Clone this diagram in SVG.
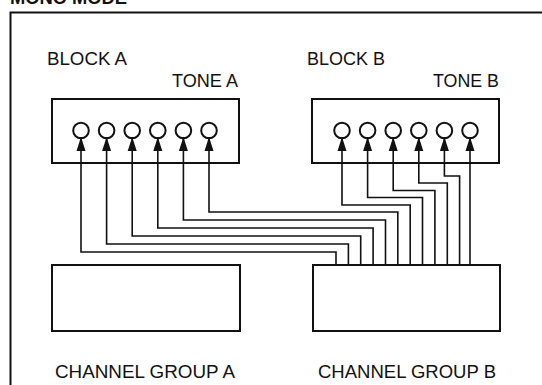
<svg xmlns="http://www.w3.org/2000/svg" width="542" height="385" viewBox="0 0 542 385">
<style>
.t{font-family:"Liberation Sans",Arial,sans-serif;font-size:17.5px;fill:#111}
.b{fill:#fff;stroke:#111;stroke-width:2}
.c{fill:#fff;stroke:#111;stroke-width:2}
.w{fill:none;stroke:#111;stroke-width:1.6;stroke-linejoin:miter}
</style>
<defs>
<marker id="ar" markerUnits="userSpaceOnUse" markerWidth="14" markerHeight="10" viewBox="0 0 14 10" refX="14" refY="5" orient="auto">
<path d="M0,0.5 L14,5 L0,9.5 z" fill="#111"/>
</marker>
</defs>
<rect width="542" height="385" fill="#fff"/>
<g id="title">
<text class="t" x="10" y="4" font-weight="bold" textLength="117" lengthAdjust="spacingAndGlyphs">MONO MODE</text>
</g>
<g id="frame">
<path d="M10.5,385 V12.5 H542" fill="none" stroke="#111" stroke-width="2"/>
</g>
<g id="blockA">
<rect class="b" x="52" y="99" width="187" height="64"/>
<text class="t" x="47" y="65" textLength="80" lengthAdjust="spacingAndGlyphs">BLOCK A</text>
<text class="t" x="172" y="87" textLength="66" lengthAdjust="spacingAndGlyphs">TONE A</text>
<circle class="c" cx="81" cy="130.5" r="7.8"/>
<circle class="c" cx="106.6" cy="130.5" r="7.8"/>
<circle class="c" cx="132.2" cy="130.5" r="7.8"/>
<circle class="c" cx="157.8" cy="130.5" r="7.8"/>
<circle class="c" cx="183.4" cy="130.5" r="7.8"/>
<circle class="c" cx="209" cy="130.5" r="7.8"/>
</g>
<g id="blockB">
<rect class="b" x="312" y="99" width="187" height="64"/>
<text class="t" x="307" y="65" textLength="78" lengthAdjust="spacingAndGlyphs">BLOCK B</text>
<text class="t" x="433" y="87" textLength="66" lengthAdjust="spacingAndGlyphs">TONE B</text>
<circle class="c" cx="342" cy="130.5" r="7.8"/>
<circle class="c" cx="367.6" cy="130.5" r="7.8"/>
<circle class="c" cx="393.2" cy="130.5" r="7.8"/>
<circle class="c" cx="418.8" cy="130.5" r="7.8"/>
<circle class="c" cx="444.4" cy="130.5" r="7.8"/>
<circle class="c" cx="470" cy="130.5" r="7.8"/>
</g>
<g id="channelGroupA">
<rect class="b" x="52" y="265" width="188" height="66"/>
<text class="t" x="55" y="378" textLength="180" lengthAdjust="spacingAndGlyphs">CHANNEL GROUP A</text>
</g>
<g id="channelGroupB">
<rect class="b" x="313" y="265" width="187" height="66"/>
<text class="t" x="318" y="378" textLength="178" lengthAdjust="spacingAndGlyphs">CHANNEL GROUP B</text>
</g>
<g id="connectors">
<path class="w" marker-end="url(#ar)" d="M336,265 V252 H81 V137"/>
<path class="w" marker-end="url(#ar)" d="M348.4,265 V244 H106.6 V137"/>
<path class="w" marker-end="url(#ar)" d="M360.7,265 V236 H132.2 V137"/>
<path class="w" marker-end="url(#ar)" d="M373.1,265 V228 H157.8 V137"/>
<path class="w" marker-end="url(#ar)" d="M385.5,265 V220 H183.4 V137"/>
<path class="w" marker-end="url(#ar)" d="M397.8,265 V212 H209 V137"/>
<path class="w" marker-end="url(#ar)" d="M410.2,265 V205 H342 V137"/>
<path class="w" marker-end="url(#ar)" d="M422.5,265 V197.5 H367.6 V137"/>
<path class="w" marker-end="url(#ar)" d="M434.9,265 V190.5 H393.2 V137"/>
<path class="w" marker-end="url(#ar)" d="M447.3,265 V183 H418.8 V137"/>
<path class="w" marker-end="url(#ar)" d="M459.6,265 V176 H444.4 V137"/>
<path class="w" marker-end="url(#ar)" d="M470,265 V137"/>
</g>
</svg>
